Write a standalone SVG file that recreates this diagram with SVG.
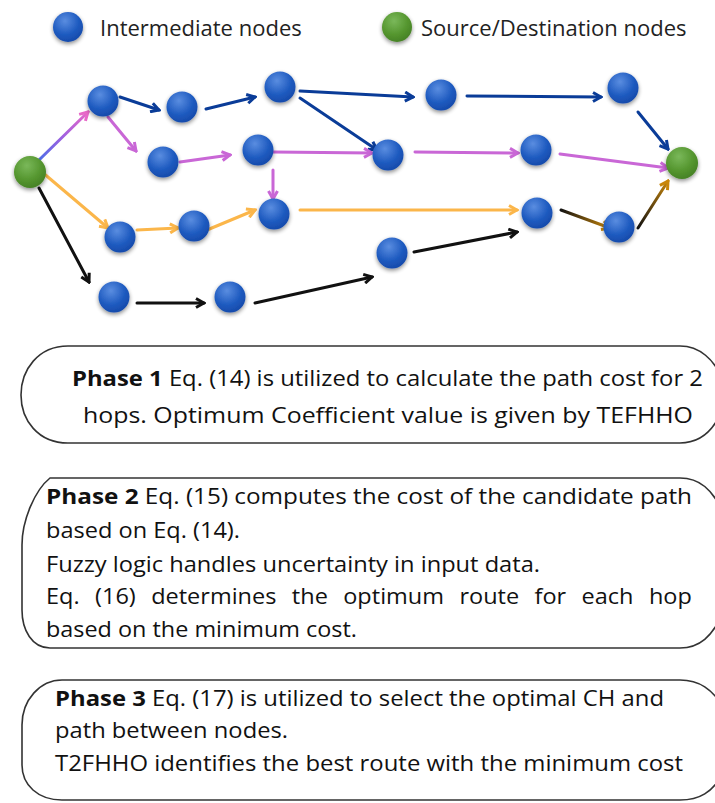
<svg xmlns="http://www.w3.org/2000/svg" width="715" height="803" viewBox="0 0 715 803">
<style>
.n{fill:url(#gb);filter:url(#sh)}
.s{fill:url(#gg);filter:url(#sh)}
.e{fill:none;stroke-width:3;stroke-linecap:round}
.bl{stroke:#0a3c98;marker-end:url(#mbl)}
.pk{stroke:#c967d6;marker-end:url(#mpk)}
.or{stroke:#fbb64a;marker-end:url(#mor)}
.bk{stroke:#111;marker-end:url(#mbk)}
.box{fill:none;stroke:#333;stroke-width:1.6}
.t{font-family:"Open Sans","Noto Sans",sans-serif;font-size:21px;fill:#111}
.lg{font-family:"Open Sans","Noto Sans",sans-serif;font-size:22px;fill:#222}
.b{font-weight:bold}
</style>
<defs>
<radialGradient id="gb" cx="0.4" cy="0.3" r="0.75">
<stop offset="0" stop-color="#5a8de0"/><stop offset="0.6" stop-color="#1f5bc0"/><stop offset="1" stop-color="#1548a8"/>
</radialGradient>
<radialGradient id="gg" cx="0.4" cy="0.3" r="0.75">
<stop offset="0" stop-color="#7ab85a"/><stop offset="0.6" stop-color="#55962f"/><stop offset="1" stop-color="#447f25"/>
</radialGradient>
<filter id="sh" x="-40%" y="-40%" width="180%" height="180%">
<feGaussianBlur in="SourceAlpha" stdDeviation="2"/><feOffset dx="0" dy="2" result="b"/>
<feComponentTransfer><feFuncA type="linear" slope="0.45"/></feComponentTransfer>
<feMerge><feMergeNode/><feMergeNode in="SourceGraphic"/></feMerge>
</filter>
<linearGradient id="lgSA" gradientUnits="userSpaceOnUse" x1="38" y1="161" x2="88" y2="112">
<stop offset="0" stop-color="#4a6ee8"/><stop offset="0.5" stop-color="#a060e0"/><stop offset="1" stop-color="#e868c8"/>
</linearGradient>
<linearGradient id="lgOP" gradientUnits="userSpaceOnUse" x1="560" y1="210" x2="610" y2="228">
<stop offset="0" stop-color="#111"/><stop offset="1" stop-color="#c8860a"/>
</linearGradient>
<linearGradient id="lgPD" gradientUnits="userSpaceOnUse" x1="638" y1="228" x2="668" y2="180">
<stop offset="0" stop-color="#111"/><stop offset="1" stop-color="#c8860a"/>
</linearGradient>
<marker id="mbl" viewBox="0 0 12 12" refX="10" refY="6" markerWidth="12" markerHeight="12" markerUnits="userSpaceOnUse" orient="auto"><path d="M2,1.5 L10,6 L2,10.5" fill="none" stroke="#0a3c98" stroke-width="3"/></marker>
<marker id="mpk" viewBox="0 0 12 12" refX="10" refY="6" markerWidth="12" markerHeight="12" markerUnits="userSpaceOnUse" orient="auto"><path d="M2,1.5 L10,6 L2,10.5" fill="none" stroke="#c967d6" stroke-width="3"/></marker>
<marker id="mpk2" viewBox="0 0 12 12" refX="10" refY="6" markerWidth="12" markerHeight="12" markerUnits="userSpaceOnUse" orient="auto"><path d="M2,1.5 L10,6 L2,10.5" fill="none" stroke="#e868c8" stroke-width="3"/></marker>
<marker id="mor" viewBox="0 0 12 12" refX="10" refY="6" markerWidth="12" markerHeight="12" markerUnits="userSpaceOnUse" orient="auto"><path d="M2,1.5 L10,6 L2,10.5" fill="none" stroke="#fbb64a" stroke-width="3"/></marker>
<marker id="mbk" viewBox="0 0 12 12" refX="10" refY="6" markerWidth="12" markerHeight="12" markerUnits="userSpaceOnUse" orient="auto"><path d="M2,1.5 L10,6 L2,10.5" fill="none" stroke="#111" stroke-width="3"/></marker>
<marker id="mbr" viewBox="0 0 12 12" refX="10" refY="6" markerWidth="12" markerHeight="12" markerUnits="userSpaceOnUse" orient="auto"><path d="M2,1.5 L10,6 L2,10.5" fill="none" stroke="#c8860a" stroke-width="3"/></marker>
</defs>
<rect width="715" height="803" fill="#fff"/>

<g id="legend">
<circle class="n" cx="68" cy="27" r="15"/>
<text class="lg" x="100" y="36">Intermediate nodes</text>
<circle class="s" cx="397" cy="27" r="15"/>
<text class="lg" x="421" y="36">Source/Destination nodes</text>
</g>

<g id="connectors">
<line class="e bl" x1="120" y1="97" x2="159" y2="110"/>
<line class="e bl" x1="206" y1="109" x2="255" y2="97"/>
<line class="e bl" x1="300" y1="91" x2="413" y2="97"/>
<line class="e bl" x1="300" y1="98" x2="377" y2="150"/>
<line class="e bl" x1="467" y1="96" x2="601" y2="97"/>
<line class="e bl" x1="638" y1="112" x2="668" y2="149"/>
<line class="e" stroke="url(#lgSA)" marker-end="url(#mpk2)" x1="38" y1="161" x2="88" y2="112"/>
<line class="e pk" x1="108" y1="117" x2="136" y2="151"/>
<line class="e pk" x1="180" y1="162" x2="230" y2="155"/>
<line class="e pk" x1="273" y1="152" x2="372" y2="153"/>
<line class="e pk" x1="273" y1="170" x2="273" y2="199"/>
<line class="e pk" x1="415" y1="152" x2="518" y2="153"/>
<line class="e pk" x1="560" y1="154" x2="668" y2="168"/>
<line class="e or" x1="42" y1="172" x2="108" y2="228"/>
<line class="e or" x1="137" y1="230" x2="178" y2="228"/>
<line class="e or" x1="207" y1="230" x2="255" y2="210"/>
<line class="e or" x1="300" y1="210" x2="517" y2="210"/>
<line class="e" stroke="url(#lgOP)" marker-end="url(#mbr)" x1="561" y1="210" x2="610" y2="228"/>
<line class="e" stroke="url(#lgPD)" marker-end="url(#mbr)" x1="638" y1="228" x2="668" y2="181"/>
<line class="e bk" x1="39" y1="188" x2="89" y2="282"/>
<line class="e bk" x1="137" y1="303" x2="204" y2="303"/>
<line class="e bk" x1="255" y1="303" x2="372" y2="277"/>
<line class="e bk" x1="414" y1="252" x2="517" y2="232"/>
</g>

<g id="src"><circle class="s" cx="30" cy="172" r="16"/></g>
<g id="nA"><circle class="n" cx="103" cy="101" r="15.5"/></g>
<g id="nB"><circle class="n" cx="182" cy="107" r="15.5"/></g>
<g id="nC"><circle class="n" cx="280" cy="87" r="15.5"/></g>
<g id="nD"><circle class="n" cx="163" cy="162" r="15.5"/></g>
<g id="nE"><circle class="n" cx="258" cy="150" r="15.5"/></g>
<g id="nF"><circle class="n" cx="274" cy="214" r="15.5"/></g>
<g id="nG"><circle class="n" cx="120" cy="237" r="15.5"/></g>
<g id="nH"><circle class="n" cx="194" cy="226" r="15.5"/></g>
<g id="nI"><circle class="n" cx="114" cy="297" r="15.5"/></g>
<g id="nJ"><circle class="n" cx="230" cy="297" r="15.5"/></g>
<g id="nK"><circle class="n" cx="441" cy="95" r="15.5"/></g>
<g id="nL"><circle class="n" cx="623" cy="88" r="15.5"/></g>
<g id="nM"><circle class="n" cx="388" cy="155" r="15.5"/></g>
<g id="nN"><circle class="n" cx="536" cy="150" r="15.5"/></g>
<g id="nO"><circle class="n" cx="537" cy="213" r="15.5"/></g>
<g id="nP"><circle class="n" cx="619" cy="227" r="15.5"/></g>
<g id="nQ"><circle class="n" cx="392" cy="253" r="15.5"/></g>
<g id="dst"><circle class="s" cx="682" cy="163" r="16"/></g>

<g id="phase1">
<path class="box" d="M68,346 L680,346 C700,346 714,360 722,378 L722,410 C714,430 700,443 680,443 L68,443 C38,443 21,420 21,395 C21,370 38,346 68,346 Z"/>
<text class="t" x="72" y="386" textLength="631" lengthAdjust="spacingAndGlyphs"><tspan class="b">Phase 1</tspan> Eq. (14) is utilized to calculate the path cost for 2</text>
<text class="t" x="83" y="423" textLength="610" lengthAdjust="spacingAndGlyphs">hops. Optimum Coefficient value is given by TEFHHO</text>
</g>

<g id="phase2">
<path class="box" d="M50,478 L680,478 C700,478 712,490 722,510 L722,615 C712,636 700,648 680,648 L50,648 C32,648 22,630 22,610 L22,545 C22,520 35,490 50,478 Z"/>
<text class="t" x="46" y="504" textLength="646" lengthAdjust="spacingAndGlyphs"><tspan class="b">Phase 2</tspan> Eq. (15) computes the cost of the candidate path</text>
<text class="t" x="46" y="538" textLength="194" lengthAdjust="spacingAndGlyphs">based on Eq. (14).</text>
<text class="t" x="46" y="572" textLength="494" lengthAdjust="spacingAndGlyphs">Fuzzy logic handles uncertainty in input data.</text>
<text class="t" transform="translate(46 604) scale(1.12 1)" x="0" y="0" word-spacing="8.3">Eq. (16) determines the optimum route for each hop</text>
<text class="t" x="46" y="637" textLength="311" lengthAdjust="spacingAndGlyphs">based on the minimum cost.</text>
</g>

<g id="phase3">
<path class="box" d="M62,680 L680,680 C700,680 712,690 722,705 L722,775 C712,792 700,800 680,800 L62,800 C38,800 22,785 22,765 L22,725 C22,700 40,680 62,680 Z"/>
<text class="t" x="55" y="706" textLength="609" lengthAdjust="spacingAndGlyphs"><tspan class="b">Phase 3</tspan> Eq. (17) is utilized to select the optimal CH and</text>
<text class="t" x="55" y="738" textLength="233" lengthAdjust="spacingAndGlyphs">path between nodes.</text>
<text class="t" x="55" y="771" textLength="628" lengthAdjust="spacingAndGlyphs">T2FHHO identifies the best route with the minimum cost</text>
</g>
</svg>
